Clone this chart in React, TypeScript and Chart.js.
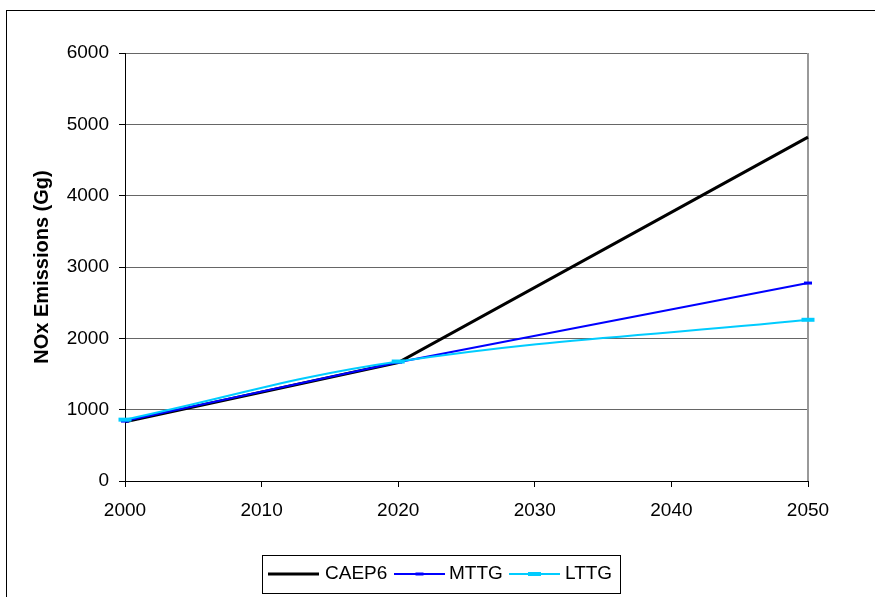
import React, { useEffect, useRef } from "react";
import { Chart, registerables } from "chart.js";

Chart.register(...registerables);

// ---- data ----
const years = [2000, 2020, 2050];
const caep6 = [830, 1660, 4820];
const mttg = [840, 1665, 2775];
const lttg = [860, 1675, 2260];
const seriesNames = ["CAEP6", "MTTG", "LTTG"];
const xTickLabels = [2000, 2010, 2020, 2030, 2040, 2050];
const yTickLabels = [0, 1000, 2000, 3000, 4000, 5000, 6000];
const yTitle = "NOx Emissions (Gg)";

const FONT = "'Liberation Sans', Arial, Helvetica, sans-serif";

const toPoints = (vals: number[]) => years.map((x, i) => ({ x, y: vals[i] }));

const decorPlugin = {
  id: "decor",
  beforeDatasetsDraw(chart: any) {
    const { ctx, chartArea } = chart;
    ctx.save();
    ctx.strokeStyle = "#999999";
    ctx.lineWidth = 2;
    ctx.beginPath();
    ctx.moveTo(chartArea.right, chartArea.top);
    ctx.lineTo(chartArea.right, chartArea.bottom);
    ctx.stroke();
    ctx.restore();
  },
  afterDraw(chart: any) {
    const { ctx } = chart;
    ctx.save();
    // outer frame
    ctx.strokeStyle = "#000";
    ctx.lineWidth = 1;
    ctx.strokeRect(6.5, 10.5, 900, 620);
    // legend box
    ctx.strokeRect(262.5, 555.5, 358, 38);
    const symStarts = [268, 394, 509];
    const textStarts = [325, 449, 565];
    const symW = 51;
    const ly = 574;
    const markerW = [0, 8, 13];
    const markerH = [0, 3, 4];
    chart.data.datasets.forEach((ds: any, i: number) => {
      ctx.strokeStyle = ds.borderColor;
      ctx.lineWidth = ds.borderWidth;
      ctx.beginPath();
      ctx.moveTo(symStarts[i], ly);
      ctx.lineTo(symStarts[i] + symW, ly);
      ctx.stroke();
      if (markerW[i] > 0) {
        ctx.fillStyle = ds.borderColor;
        const cx = symStarts[i] + symW / 2;
        ctx.fillRect(cx - markerW[i] / 2, ly - markerH[i] / 2, markerW[i], markerH[i]);
      }
      ctx.fillStyle = "#000";
      ctx.font = `19px ${FONT}`;
      ctx.textBaseline = "alphabetic";
      ctx.textAlign = "left";
      ctx.fillText(ds.label, textStarts[i], 579);
    });
    ctx.restore();
  },
};

export default function App() {
  const ref = useRef<HTMLCanvasElement | null>(null);

  useEffect(() => {
    if (!ref.current) return;
    const chart = new Chart(ref.current, {
      type: "line",
      data: {
        datasets: [
          {
            label: seriesNames[0],
            data: toPoints(caep6),
            borderColor: "#000000",
            backgroundColor: "#000000",
            borderWidth: 3,
            pointRadius: 0,
            tension: 0,
            order: 3,
            clip: false as any,
          },
          {
            label: seriesNames[1],
            data: toPoints(mttg),
            borderColor: "#0000FF",
            backgroundColor: "#0000FF",
            borderWidth: 2,
            pointStyle: "line",
            pointRadius: 4,
            pointBorderWidth: 3,
            pointBorderColor: "#0000FF",
            tension: 0,
            order: 2,
            clip: false as any,
          },
          {
            label: seriesNames[2],
            data: toPoints(lttg),
            borderColor: "#00CCFF",
            backgroundColor: "#00CCFF",
            borderWidth: 2,
            pointStyle: "line",
            pointRadius: 6.5,
            pointBorderWidth: 4,
            pointBorderColor: "#00CCFF",
            tension: 0.4,
            order: 1,
            clip: false as any,
          },
        ],
      },
      options: {
        responsive: false,
        animation: false,
        layout: { padding: { left: 0, top: 53, right: 67, bottom: 76 } },
        plugins: {
          legend: { display: false },
          tooltip: { enabled: false },
        },
        scales: {
          x: {
            type: "linear",
            min: xTickLabels[0],
            max: xTickLabels[xTickLabels.length - 1],
            afterFit: (s: any) => {
              s.height = 40;
            },
            afterBuildTicks: (s: any) => {
              s.ticks = xTickLabels.map((v) => ({ value: v }));
            },
            ticks: {
              callback: (v: any) => String(v),
              color: "#000",
              font: { family: FONT, size: 19 },
              padding: 12,
              maxRotation: 0,
              autoSkip: false,
            },
            grid: {
              drawOnChartArea: false,
              drawTicks: true,
              tickLength: 6,
              tickColor: "#000",
              color: "#000",
            },
            border: { color: "#000", width: 1 },
          },
          y: {
            type: "linear",
            min: yTickLabels[0],
            max: yTickLabels[yTickLabels.length - 1],
            afterFit: (s: any) => {
              s.width = 125;
            },
            afterBuildTicks: (s: any) => {
              s.ticks = yTickLabels.map((v) => ({ value: v }));
            },
            ticks: {
              callback: (v: any) => String(v),
              color: "#000",
              font: { family: FONT, size: 19 },
              padding: 10,
            },
            grid: {
              color: "#666666",
              tickColor: "#000",
              tickLength: 6,
              lineWidth: 1,
            },
            border: { color: "#000", width: 1 },
            title: {
              display: true,
              text: yTitle,
              color: "#000",
              font: { family: FONT, size: 20, weight: "bold" },
              padding: { top: 30, bottom: 0 },
            },
          },
        },
      },
      plugins: [decorPlugin],
    });
    return () => chart.destroy();
  }, []);

  return (
    <div
      style={{
        position: "fixed",
        left: 0,
        top: 0,
        width: 875,
        height: 597,
        background: "#fff",
      }}
    >
      <canvas ref={ref} width={875} height={597} style={{ display: "block" }} />
    </div>
  );
}
